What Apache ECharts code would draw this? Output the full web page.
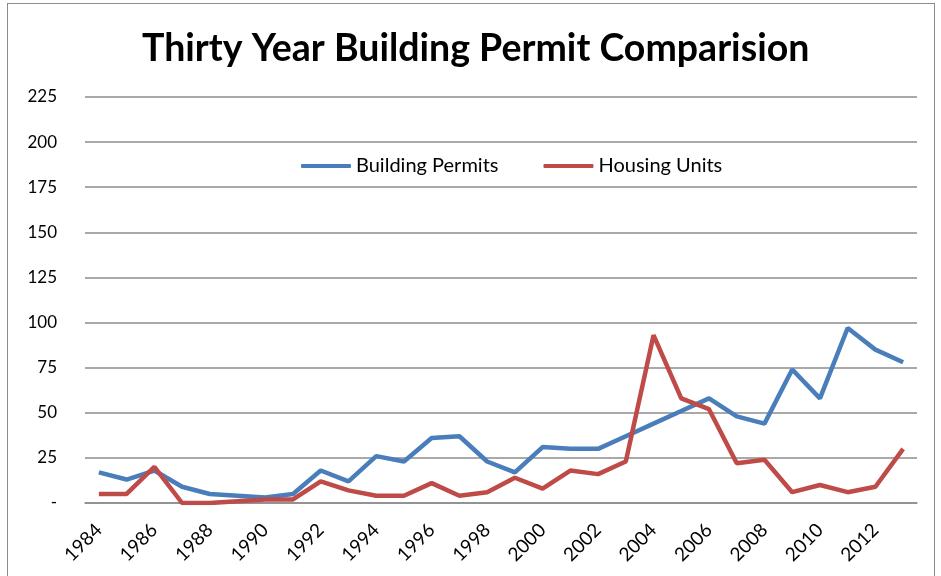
<!DOCTYPE html>
<html>
<head>
<meta charset="utf-8">
<script src="https://cdn.jsdelivr.net/npm/echarts@6/dist/echarts.min.js"></script>
<style>
html,body{margin:0;padding:0;background:#fff;}
#frame{position:absolute;left:7px;top:3px;width:928px;height:600px;border:1px solid #8c8c8c;box-sizing:border-box;}
#chart{position:absolute;left:0;top:0;width:941px;height:576px;}
</style>
</head>
<body>
<div id="frame"></div>
<div id="chart"></div>
<script>
const years = ['1984','1985','1986','1987','1988','1989','1990','1991','1992','1993','1994','1995','1996','1997','1998','1999','2000','2001','2002','2003','2004','2005','2006','2007','2008','2009','2010','2011','2012','2013'];
const permits = [17,13,18,9,5,4,3,5,18,12,26,23,36,37,23,17,31,30,30,37,44,51,58,48,44,74,58,97,85,78];
const housing = [5,5,20,0,0,1,2,2,12,7,4,4,11,4,6,14,8,18,16,23,93,58,52,22,24,6,10,6,9,30];
const yTicks = [0,25,50,75,100,125,150,175,200,225];

const font = 'Lato, "Open Sans", sans-serif';
const c = echarts.init(document.getElementById('chart'));
c.setOption({
  animation:false,
  title:{text:'Thirty Year Building Permit Comparision', left:137, top:25,
    textStyle:{fontFamily:font, fontWeight:'bold', fontSize:37.5, color:'#000'}},
  legend:{top:151, left:296, itemGap:45, itemWidth:50, itemHeight:4, icon:'roundRect',
    textStyle:{fontFamily:font, fontSize:20, color:'#000'},
    data:['Building Permits','Housing Units']},
  grid:{left:85, right:24, top:97, bottom:73},
  xAxis:{type:'category', data:years, boundaryGap:true,
    axisLine:{lineStyle:{color:'#8c8c8c', width:1.5}},
    axisTick:{show:false},
    axisLabel:{interval:1, rotate:45, margin:24, fontFamily:font, fontSize:19, color:'#000'}},
  yAxis:{type:'value', min:0, max:225, interval:25,
    axisLine:{show:false}, axisTick:{show:false},
    splitLine:{lineStyle:{color:'#8c8c8c', width:1.5}},
    axisLabel:{margin:28, fontFamily:font, fontSize:17, color:'#000',
      formatter:v=> yTicks.includes(v) ? (v===0?'-':String(v)) : ''}},
  series:[
    {name:'Building Permits', type:'line', data:permits, showSymbol:false, symbol:'none',
      lineStyle:{color:'#4a7ebb', width:4.5}, itemStyle:{color:'#4a7ebb'}},
    {name:'Housing Units', type:'line', data:housing, showSymbol:false, symbol:'none',
      lineStyle:{color:'#be4b48', width:4.5}, itemStyle:{color:'#be4b48'}}
  ]
});
</script>
</body>
</html>
